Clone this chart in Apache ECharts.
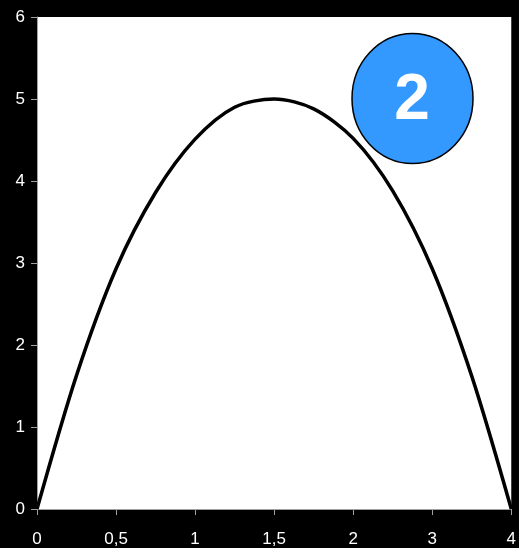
<!DOCTYPE html>
<html>
<head>
<meta charset="utf-8">
<style>
  html, body { margin: 0; padding: 0; background: #000; }
  #chart { width: 519px; height: 548px; }
</style>
<script src="https://cdn.jsdelivr.net/npm/echarts@6/dist/echarts.min.js"></script>
</head>
<body>
<div id="chart"></div>
<script>
// x categories (every other one is labelled)
const categories = ['0', '0,25', '0,5', '0,75', '1', '1,25', '1,5', '1,75', '2', '2,5', '3', '3,5', '4']
// curve values
const values = [0, 1.63, 2.93, 3.86, 4.51, 4.9, 5, 4.88, 4.52, 3.88, 2.93, 1.62, 0]
const yTicks = { min: 0, max: 6, interval: 1 }
const badgeText = '2'

const chart = echarts.init(document.getElementById('chart'))

const labelStyle = {
  color: '#fff',
  fontFamily: 'Liberation Sans, Arial, sans-serif',
  fontSize: 17,
}

chart.setOption({
  backgroundColor: '#000',
  animation: false,
  grid: {
    left: 37,
    right: 7,
    top: 17,
    bottom: 36,
    show: true,
    backgroundColor: '#fff',
    borderWidth: 0,
  },
  xAxis: {
    type: 'category',
    data: categories,
    boundaryGap: false,
    axisLine: { lineStyle: { color: '#a0a0a0', width: 1 } },
    axisTick: { interval: 1, length: 6, lineStyle: { color: '#a0a0a0' } },
    axisLabel: { interval: 1, margin: 22, ...labelStyle },
    splitLine: { show: false },
  },
  yAxis: {
    type: 'value',
    min: yTicks.min,
    max: yTicks.max,
    interval: yTicks.interval,
    axisLine: { show: true, lineStyle: { color: '#a0a0a0', width: 1 } },
    axisTick: { show: true, length: 6, lineStyle: { color: '#a0a0a0' } },
    axisLabel: { margin: 12, ...labelStyle },
    splitLine: { show: false },
  },
  series: [
    {
      type: 'line',
      data: values,
      smooth: 0.3,
      symbol: 'none',
      lineStyle: { color: '#000', width: 3.5 },
    },
  ],
  graphic: [
    {
      type: 'ellipse',
      shape: { cx: 412.5, cy: 98.5, rx: 60.5, ry: 65 },
      style: { fill: '#3399ff', stroke: '#000', lineWidth: 1.5 },
      z: 100,
    },
    {
      type: 'text',
      x: 412,
      y: 101,
      style: {
        text: badgeText,
        fill: '#fff',
        font: 'bold 64px Liberation Sans, Arial, sans-serif',
        align: 'center',
        verticalAlign: 'middle',
      },
      z: 101,
    },
  ],
})
</script>
</body>
</html>
